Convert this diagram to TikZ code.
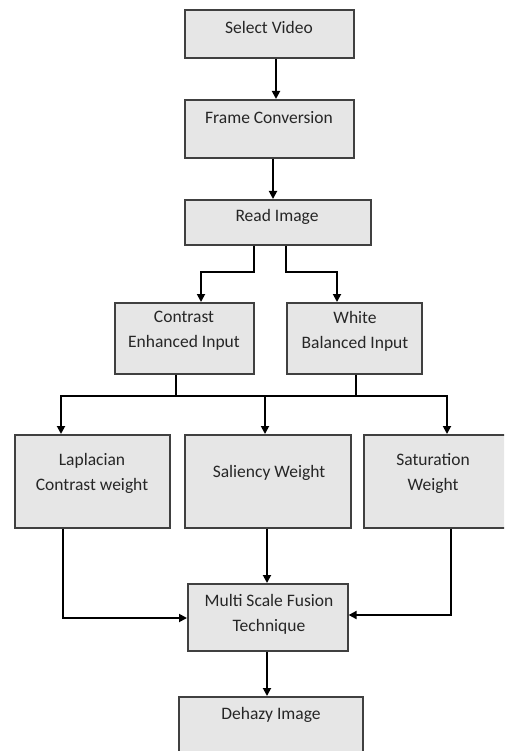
\documentclass[tikz,border=0pt]{standalone}
\usepackage{fontspec}
\setmainfont{Carlito}
\usetikzlibrary{arrows.meta}
\definecolor{boxfill}{RGB}{230,230,230}
\definecolor{boxline}{RGB}{64,64,64}
\definecolor{txtcol}{RGB}{38,38,38}
\tikzset{
  box/.style={draw=boxline, fill=boxfill, line width=1.6pt, rectangle, inner sep=0pt, anchor=north west},
  txt/.style={text=txtcol, font=\fontsize{17.5}{25}\selectfont, align=center, inner sep=0pt},
  conn/.style={draw=black, line width=1.8pt, -{Triangle[length=8pt,width=8pt]}},
  plain/.style={draw=black, line width=1.8pt}
}
\begin{document}
\begin{tikzpicture}[x=1pt,y=-1pt]
\useasboundingbox (0,0) rectangle (504,751);
\clip (0,0) rectangle (504,751);
% boxes
\node[box, minimum width=169pt, minimum height=48pt] (sv) at (184,9) {};
\node[box, minimum width=169pt, minimum height=58pt] (fc) at (184,99) {};
\node[box, minimum width=186pt, minimum height=45pt] (ri) at (184,199) {};
\node[box, minimum width=139pt, minimum height=71pt] (ce) at (114,302) {};
\node[box, minimum width=135pt, minimum height=71pt] (wb) at (286,302) {};
\node[box, minimum width=155pt, minimum height=93pt] (lap) at (14,434) {};
\node[box, minimum width=166pt, minimum height=93pt] (sal) at (184,434) {};
\node[box, minimum width=150pt, minimum height=93pt] (sat) at (363,434) {};
\node[box, minimum width=160pt, minimum height=67pt] (msf) at (187,583) {};
\node[box, minimum width=184pt, minimum height=80pt] (dh) at (178,696) {};
% texts
\node[txt] (tsv) at (269,27) {Select Video};
\node[txt] (tfc) at (269,118) {Frame Conversion};
\node[txt] (tri) at (277,217) {Read Image};
\node[txt] (tce) at (184,331) {Contrast\\Enhanced Input};
\node[txt] (twb) at (355,331) {White\\Balanced Input};
\node[txt] (tlap) at (92,473) {Laplacian\\Contrast weight};
\node[txt] (tsal) at (269,473) {Saliency Weight};
\node[txt] (tsat) at (433,473) {Saturation\\Weight};
\node[txt] (tmsf) at (269,614) {Multi Scale Fusion\\Technique};
\node[txt] (tdh) at (271,715) {Dehazy Image};
% coordinates
\coordinate (j1) at (176,396);
\coordinate (j2) at (356,396);
\coordinate (jl) at (61,396);
\coordinate (jr) at (447,396);
% connectors
\draw[conn] (sv.south -| 276,0) -- (fc.north -| 276,0);
\draw[conn] (fc.south -| 273,0) -- (ri.north -| 273,0);
\draw[conn] (ri.south -| 254,0) |- (201,272) -- (ce.north -| 201,0);
\draw[conn] (ri.south -| 286,0) |- (337,272) -- (wb.north -| 337,0);
\draw[plain] (ce.south -| j1) -- (j1);
\draw[plain] (wb.south -| j2) -- (j2);
\draw[plain, line cap=rect] (jl) -- (jr);
\draw[conn] (jl) -- (lap.north -| jl);
\draw[conn] (265,396) -- (sal.north -| 265,0);
\draw[conn] (jr) -- (sat.north -| jr);
\draw[conn] (lap.south -| 63,0) |- (msf.west |- 0,618);
\draw[conn] (sal.south -| 267,0) -- (msf.north -| 267,0);
\draw[conn] (sat.south -| 451,0) |- (msf.east |- 0,615);
\draw[conn] (msf.south -| 267,0) -- (dh.north -| 267,0);
\end{tikzpicture}
\end{document}
